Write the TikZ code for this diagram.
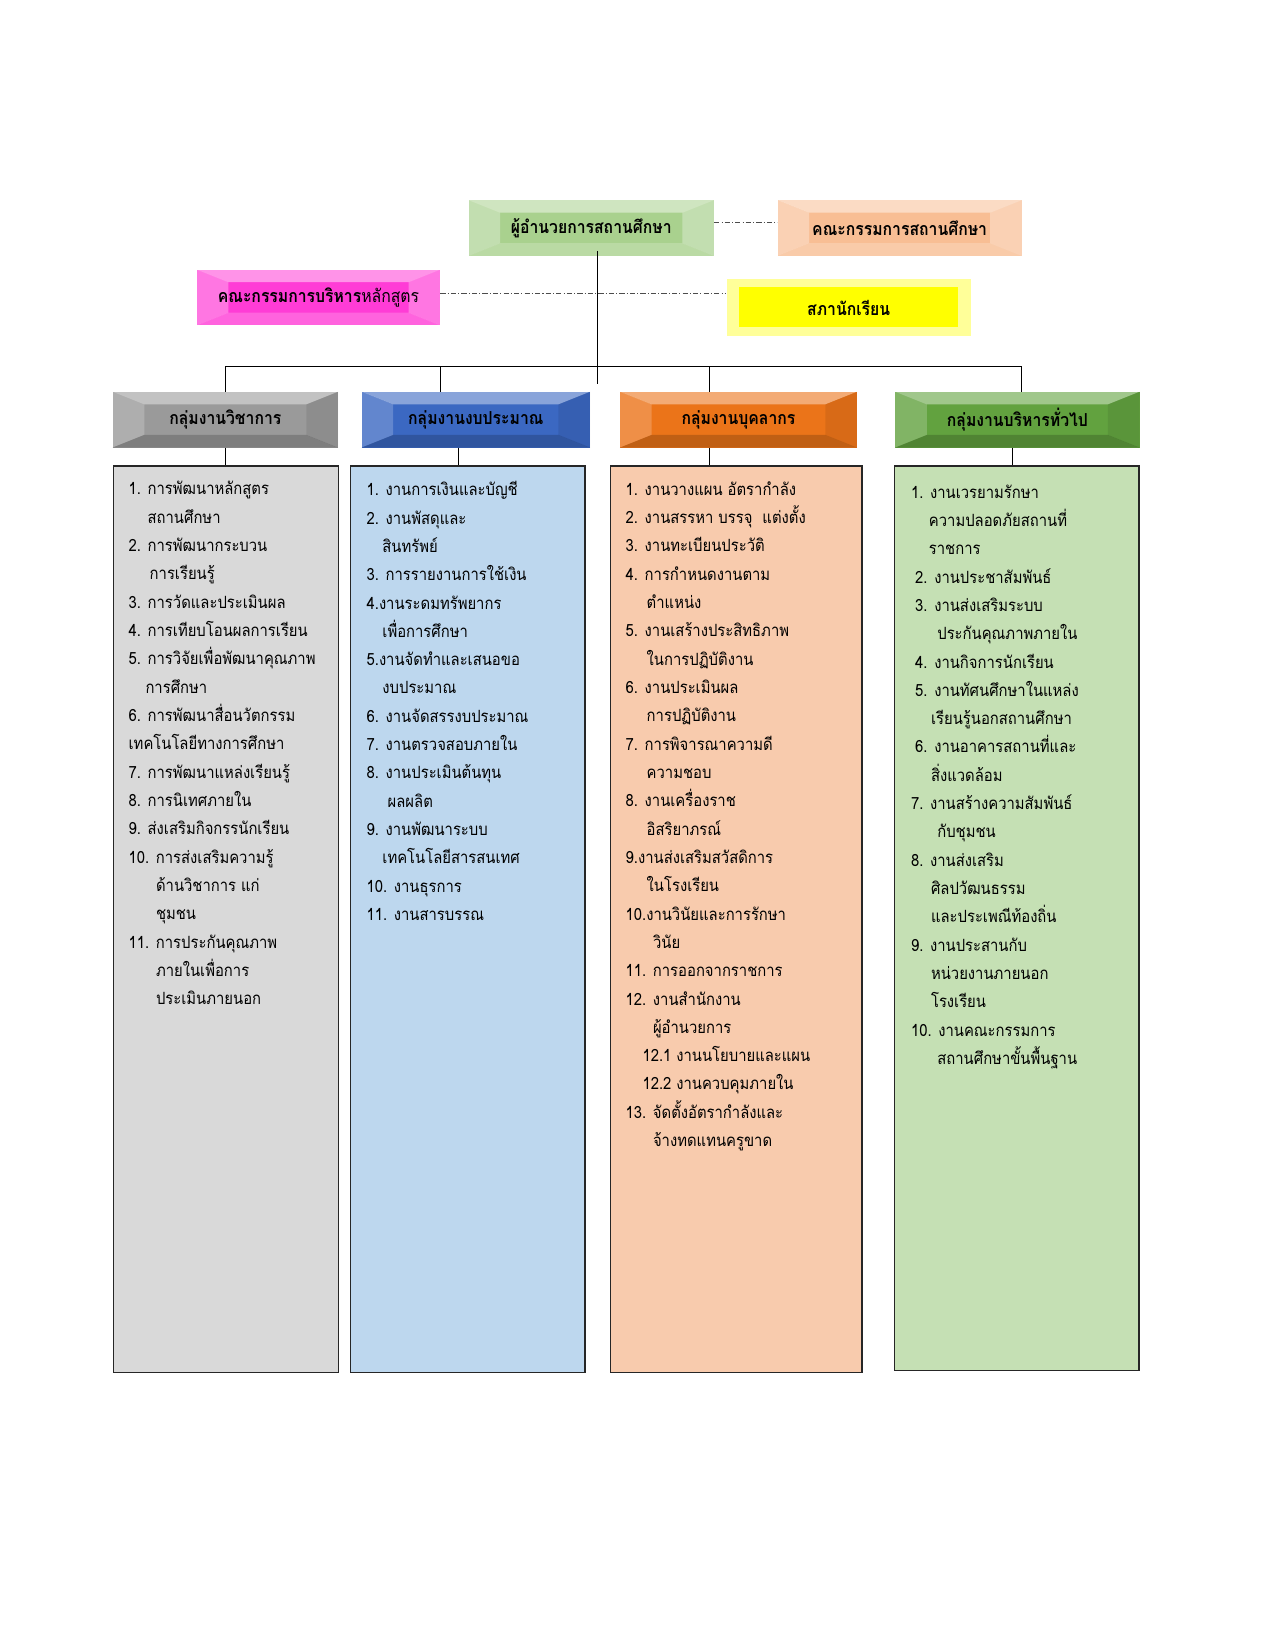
\documentclass[tikz,border=0pt]{standalone}
\usepackage{fontspec}
\setmainfont[Script=Thai, FakeStretch=0.88]{Loma}
\usetikzlibrary{positioning}

\definecolor{dirgreen}{HTML}{A9D18E}
\definecolor{boardpeach}{HTML}{F8BE94}
\definecolor{currmag}{HTML}{FF3CD6}
\definecolor{cnlpale}{HTML}{FFFF99}
\definecolor{cnlyellow}{HTML}{FFFF00}
\definecolor{hdgrey}{HTML}{9A9A9A}
\definecolor{hdblue}{HTML}{3B68C2}
\definecolor{hdorange}{HTML}{EB7419}
\definecolor{hdgreen}{HTML}{62A23F}
\definecolor{lsgrey}{HTML}{D9D9D9}
\definecolor{lsblue}{HTML}{BDD7EE}
\definecolor{lspeach}{HTML}{F8CBAD}
\definecolor{lsgreen}{HTML}{C5E0B4}

\newcommand{\ppb}{path picture bounding box}
\newcommand{\ind}[1]{\hspace*{#1pt}}

\tikzset{
  bevel/.style={fill=#1, inner sep=0pt, minimum height=53pt,
    font=\bfseries\fontsize{17}{19}\selectfont,
    path picture={
      \fill[white, opacity=.4] (\ppb.north west) -- (\ppb.north east) -- ([shift={(-30,12)}]\ppb.north east) -- ([shift={(30,12)}]\ppb.north west) -- cycle;
      \fill[white, opacity=.2] (\ppb.north west) -- (\ppb.south west) -- ([shift={(30,-12)}]\ppb.south west) -- ([shift={(30,12)}]\ppb.north west) -- cycle;
      \fill[black, opacity=.08] (\ppb.north east) -- (\ppb.south east) -- ([shift={(-30,-12)}]\ppb.south east) -- ([shift={(-30,12)}]\ppb.north east) -- cycle;
      \fill[black, opacity=.18] (\ppb.south west) -- (\ppb.south east) -- ([shift={(-30,-12)}]\ppb.south east) -- ([shift={(30,-12)}]\ppb.south west) -- cycle;
    }},
  glow/.style={fill=#1, inner sep=0pt, minimum height=53pt,
    font=\bfseries\fontsize{17}{19}\selectfont,
    path picture={
      \fill[white, opacity=.45] (\ppb.north west) -- (\ppb.north east) -- ([shift={(-30,12)}]\ppb.north east) -- ([shift={(30,12)}]\ppb.north west) -- cycle;
      \fill[white, opacity=.3] (\ppb.north west) -- (\ppb.south west) -- ([shift={(30,-12)}]\ppb.south west) -- ([shift={(30,12)}]\ppb.north west) -- cycle;
      \fill[white, opacity=.3] (\ppb.north east) -- (\ppb.south east) -- ([shift={(-30,-12)}]\ppb.south east) -- ([shift={(-30,12)}]\ppb.north east) -- cycle;
      \fill[white, opacity=.2] (\ppb.south west) -- (\ppb.south east) -- ([shift={(-30,-12)}]\ppb.south east) -- ([shift={(30,-12)}]\ppb.south west) -- cycle;
    }},
  council/.style={fill=cnlpale, inner sep=0pt, minimum width=232pt, minimum height=54pt,
    font=\bfseries\fontsize{17}{19}\selectfont,
    path picture={
      \fill[cnlyellow] ([shift={(12,8)}]\ppb.north west) rectangle ([shift={(-12,-8)}]\ppb.south east);
    }},
  lst/.style={draw=black!85, line width=1.2pt, fill=#1, anchor=north west, inner sep=0pt},
  item/.style={align=left, anchor=north west, inner sep=0pt, font=\fontsize{16}{26.9}\selectfont},
  tree/.style={draw=black, line width=1pt},
  link/.style={draw=black!70, line width=0.8pt, dash pattern=on 5pt off 2pt on 1pt off 2pt}
}

\begin{document}
\begin{tikzpicture}[x=1pt, y=-1pt]
  \path[use as bounding box, fill=white] (0,0) rectangle (1211,1567);

  % top level
  \node[glow=dirgreen, minimum width=233pt](dir) at (561.5,216.5){ผู้อำนวยการสถานศึกษา};
  \node[glow=boardpeach, minimum width=232pt](board)[right=60pt of dir]{คณะกรรมการสถานศึกษา};
  \node[glow=currmag, minimum width=231pt](currc) at (302.5,282.5){คณะกรรมการบริหาร\mdseries หลักสูตร};
  \node[council](cnl) at (806,292){สภานักเรียน};

  % groups
  \node[bevel=hdgrey, minimum width=214pt](grpA) at (214,398.5){กลุ่มงานวิชาการ};
  \node[bevel=hdblue, minimum width=217pt](grpB)[right=22pt of grpA]{กลุ่มงานงบประมาณ};
  \node[bevel=hdorange, minimum width=225pt](grpC)[right=28pt of grpB]{กลุ่มงานบุคลากร};
  \node[bevel=hdgreen, minimum width=232pt](grpD)[right=36pt of grpC]{กลุ่มงานบริหารทั่วไป};

  % task boxes
  \node[lst=lsgrey, minimum width=214pt, minimum height=861pt](lstA) at (107,442){};
  \node[lst=lsblue, minimum width=223pt, minimum height=861pt](lstB) at (332,442){};
  \node[lst=lspeach, minimum width=239pt, minimum height=861pt](lstC) at (579,442){};
  \node[lst=lsgreen, minimum width=232pt, minimum height=859pt](lstD) at (849,442){};

  \node[item](txtA) at (122,457){1. การพัฒนาหลักสูตร\\
    \ind{18}สถานศึกษา\\
    2. การพัฒนากระบวน\\
    \ind{20}การเรียนรู้\\
    3. การวัดและประเมินผล\\
    4. การเทียบโอนผลการเรียน\\
    5. การวิจัยเพื่อพัฒนาคุณภาพ\\
    \ind{16}การศึกษา\\
    6. การพัฒนาสื่อนวัตกรรม\\
    เทคโนโลยีทางการศึกษา\\
    7. การพัฒนาแหล่งเรียนรู้\\
    8. การนิเทศภายใน\\
    9. ส่งเสริมกิจกรรนักเรียน\\
    10. การส่งเสริมความรู้\\
    \ind{26}ด้านวิชาการ แก่\\
    \ind{26}ชุมชน\\
    11. การประกันคุณภาพ\\
    \ind{26}ภายในเพื่อการ\\
    \ind{26}ประเมินภายนอก};

  \node[item](txtB) at (348,457){1. งานการเงินและบัญชี\\
    2. งานพัสดุและ\\
    \ind{15}สินทรัพย์\\
    3. การรายงานการใช้เงิน\\
    4.งานระดมทรัพยากร\\
    \ind{15}เพื่อการศึกษา\\
    5.งานจัดทำและเสนอขอ\\
    \ind{15}งบประมาณ\\
    6. งานจัดสรรงบประมาณ\\
    7. งานตรวจสอบภายใน\\
    8. งานประเมินต้นทุน\\
    \ind{20}ผลผลิต\\
    9. งานพัฒนาระบบ\\
    \ind{15}เทคโนโลยีสารสนเทศ\\
    10. งานธุรการ\\
    11. งานสารบรรณ};

  \node[item](txtC) at (594,457){1. งานวางแผน อัตรากำลัง\\
    2. งานสรรหา บรรจุ\ \ แต่งตั้ง\\
    3. งานทะเบียนประวัติ\\
    4. การกำหนดงานตาม\\
    \ind{20}ตำแหน่ง\\
    5. งานเสร้างประสิทธิภาพ\\
    \ind{20}ในการปฏิบัติงาน\\
    6. งานประเมินผล\\
    \ind{20}การปฏิบัติงาน\\
    7. การพิจารณาความดี\\
    \ind{20}ความชอบ\\
    8. งานเครื่องราช\\
    \ind{20}อิสริยาภรณ์\\
    9.งานส่งเสริมสวัสดิการ\\
    \ind{20}ในโรงเรียน\\
    10.งานวินัยและการรักษา\\
    \ind{26}วินัย\\
    11. การออกจากราชการ\\
    12. งานสำนักงาน\\
    \ind{26}ผู้อำนวยการ\\
    \ind{16}12.1 งานนโยบายและแผน\\
    \ind{16}12.2 งานควบคุมภายใน\\
    13. จัดตั้งอัตรากำลังและ\\
    \ind{26}จ้างทดแทนครูขาด};

  \node[item](txtD) at (865,460){1. งานเวรยามรักษา\\
    \ind{17}ความปลอดภัยสถานที่\\
    \ind{17}ราชการ\\
    \ind{4}2. งานประชาสัมพันธ์\\
    \ind{4}3. งานส่งเสริมระบบ\\
    \ind{25}ประกันคุณภาพภายใน\\
    \ind{4}4. งานกิจการนักเรียน\\
    \ind{4}5. งานทัศนศึกษาในแหล่ง\\
    \ind{19}เรียนรู้นอกสถานศึกษา\\
    \ind{4}6. งานอาคารสถานที่และ\\
    \ind{19}สิ่งแวดล้อม\\
    7. งานสร้างความสัมพันธ์\\
    \ind{25}กับชุมชน\\
    8. งานส่งเสริม\\
    \ind{19}ศิลปวัฒนธรรม\\
    \ind{19}และประเพณีท้องถิ่น\\
    9. งานประสานกับ\\
    \ind{19}หน่วยงานภายนอก\\
    \ind{19}โรงเรียน\\
    10. งานคณะกรรมการ\\
    \ind{25}สถานศึกษาขั้นพื้นฐาน};

  % connectors
  \coordinate(bus) at (567,348);
  \coordinate(trunkend) at (567,365);
  \draw[link] ([yshift=5.5pt]dir.east) -- ([yshift=5.5pt]board.west);
  \draw[link] ([yshift=3.5pt]currc.east) -- ([yshift=3.5pt]currc.east -| cnl.west);
  \draw[tree] ([xshift=5.5pt,yshift=5pt]dir.south) -- (trunkend);
  \draw[tree] (grpA.north) -- (grpA.north |- bus) -- ([xshift=4pt]grpD.north |- bus) -- ([xshift=4pt]grpD.north);
  \draw[tree] ([xshift=-33.5pt]grpB.north) -- ([xshift=-33.5pt]grpB.north |- bus);
  \draw[tree] ([xshift=-27.5pt]grpC.north) -- ([xshift=-27.5pt]grpC.north |- bus);
  \draw[tree] (grpA.south) -- (grpA.south |- lstA.north);
  \draw[tree] ([xshift=-16.5pt]grpB.south) -- ([xshift=-16.5pt]grpB.south |- lstB.north);
  \draw[tree] ([xshift=-27.5pt]grpC.south) -- ([xshift=-27.5pt]grpC.south |- lstC.north);
  \draw[tree] ([xshift=-5pt]grpD.south) -- ([xshift=-5pt]grpD.south |- lstD.north);
\end{tikzpicture}
\end{document}
